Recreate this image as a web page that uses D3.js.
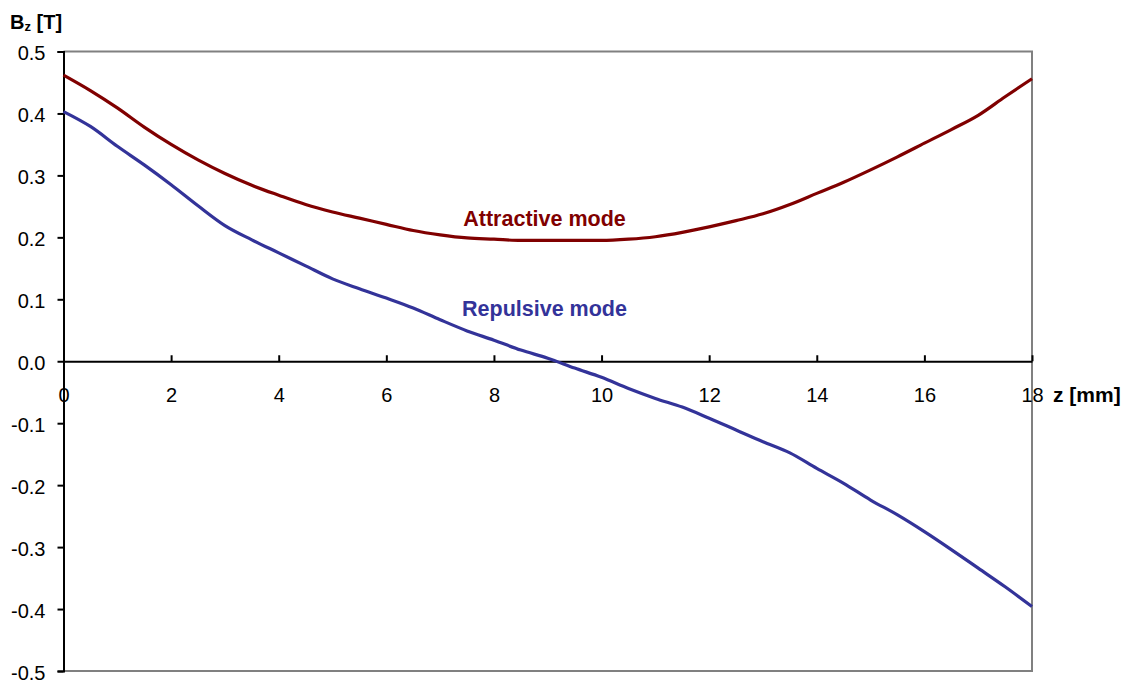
<!DOCTYPE html>
<html><head><meta charset="utf-8">
<script src="https://cdn.jsdelivr.net/npm/d3@7"></script>
<style>body{margin:0;background:#fff}svg{display:block}text{font-family:"Liberation Sans",Arial,sans-serif}</style>
</head><body><svg id="c" width="1135" height="683"></svg>
<script>
const zValues = [0,0.5,1,1.5,2,2.5,3,3.5,4,4.5,5,5.5,6,6.5,7,7.5,8,8.5,9,9.5,10,10.5,11,11.5,12,12.5,13,13.5,14,14.5,15,15.5,16,16.5,17,17.5,18];
const attractive = [0.462,0.437,0.409,0.378,0.350,0.325,0.303,0.284,0.268,0.253,0.241,0.231,0.221,0.211,0.204,0.199,0.197,0.195,0.195,0.195,0.195,0.197,0.201,0.208,0.217,0.227,0.238,0.253,0.271,0.289,0.309,0.330,0.352,0.374,0.397,0.427,0.456];
const repulsive = [0.403,0.379,0.347,0.317,0.285,0.251,0.219,0.196,0.175,0.154,0.133,0.117,0.102,0.086,0.067,0.049,0.034,0.018,0.005,-0.011,-0.026,-0.044,-0.060,-0.074,-0.092,-0.111,-0.130,-0.148,-0.173,-0.197,-0.224,-0.248,-0.275,-0.304,-0.334,-0.364,-0.396];
const xTicks = [0,2,4,6,8,10,12,14,16,18];
const yTicks = [0.5,0.4,0.3,0.2,0.1,0,-0.1,-0.2,-0.3,-0.4,-0.5];
const seriesNames = ["Attractive mode","Repulsive mode"];
const colors = ["#800000","#333399"];

const svg = d3.select("#c");
const L=63.5, R=1032, T=51.5, B=671;
const x = d3.scaleLinear().domain([0,18]).range([L,R]);
const y = d3.scaleLinear().domain([-0.5,0.5]).range([B,T]);
const FF = "Liberation Sans, Arial, sans-serif";

// frame (gray)
svg.append("path").attr("d",`M${L},${T}H${R}V${B}H${L}`).attr("fill","none").attr("stroke","#808080").attr("stroke-width",2);

// y axis
const yAxis = d3.axisLeft(y).tickValues(yTicks).tickSize(6).tickPadding(12)
  .tickFormat(d=>d<0?"-"+Math.abs(d).toFixed(1):d.toFixed(1));
const gy = svg.append("g").attr("transform",`translate(${L},0)`).call(yAxis);
gy.select(".domain").attr("stroke","#000").attr("stroke-width",2);
gy.selectAll(".tick line").attr("stroke","#000").attr("stroke-width",2);
gy.selectAll(".tick text").attr("font-size",20).attr("fill","#000").attr("font-family",FF).attr("dy","0.4em");

// x axis at y=0
const xAxis = d3.axisBottom(x).tickValues(xTicks).tickFormat(d3.format("d")).tickSizeInner(-6).tickSizeOuter(0).tickPadding(26.5);
const gx = svg.append("g").attr("transform",`translate(0,${y(0)})`).call(xAxis);
gx.select(".domain").attr("stroke","#000").attr("stroke-width",2);
gx.selectAll(".tick line").attr("stroke","#000").attr("stroke-width",2);
gx.selectAll(".tick text").attr("font-size",20).attr("fill","#000").attr("font-family",FF);

// lines
const line = d3.line().x((d,i)=>x(zValues[i])).y(d=>y(d)).curve(d3.curveMonotoneX);
[attractive,repulsive].forEach((s,k)=>{
  svg.append("path").datum(s).attr("d",line).attr("fill","none").attr("stroke",colors[k]).attr("stroke-width",3.2).attr("stroke-linejoin","round");
});

// series labels
svg.append("text").attr("x",544.5).attr("y",225.5).attr("text-anchor","middle").attr("font-size",21.5).attr("font-weight","bold").attr("fill",colors[0]).text(seriesNames[0]);
svg.append("text").attr("x",544.5).attr("y",316).attr("text-anchor","middle").attr("font-size",21.5).attr("font-weight","bold").attr("fill",colors[1]).text(seriesNames[1]);

// axis titles
const yt = svg.append("text").attr("x",10).attr("y",28.5).attr("font-size",20).attr("font-weight","bold").attr("fill","#000");
yt.append("tspan").text("B");
yt.append("tspan").attr("font-size",13).attr("dy",2).text("z");
yt.append("tspan").attr("dy",-2).text(" [T]");
svg.append("text").attr("x",1053).attr("y",402).attr("font-size",21).attr("font-weight","bold").attr("fill","#000").text("z [mm]");
</script></body></html>
